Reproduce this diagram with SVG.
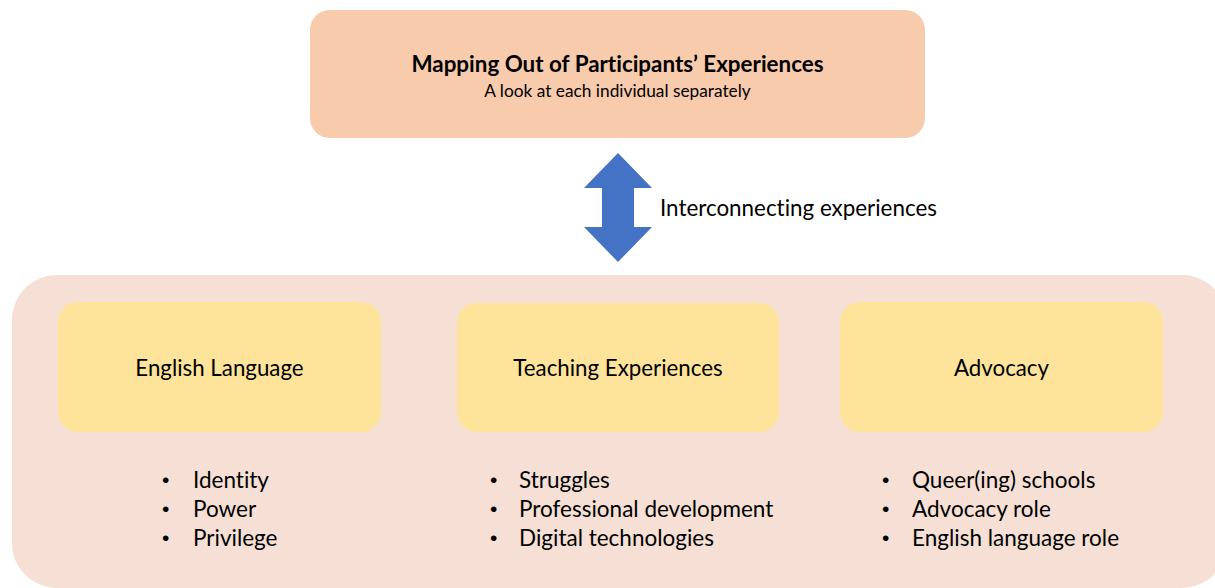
<svg xmlns="http://www.w3.org/2000/svg" width="1215" height="588" viewBox="0 0 1215 588">
<style>
text{font-family:Lato,"Open Sans","Liberation Sans",sans-serif;fill:#000;font-variant-ligatures:none;font-feature-settings:"liga" 0,"dlig" 0}
.title{font-size:22.4px;font-weight:bold;text-anchor:middle}
.sub{font-size:17.3px;text-anchor:middle}
.head{font-size:22.3px;text-anchor:middle}
.item{font-size:22.5px}
.bul{font-size:21px;font-family:"Liberation Sans",sans-serif}
.lbl{font-size:22.4px}
.inner{fill:#FDE49A}
</style>
<rect width="1215" height="588" fill="#FFFFFF"/>
<g id="top">
<rect x="310" y="10" width="615" height="128" rx="20" fill="#F8CBAD"/>
<text class="title" x="617.5" y="72">Mapping Out of Participants’ Experiences</text>
<text class="sub" x="617.5" y="97">A look at each individual separately</text>
</g>
<g id="connectors">
<polygon points="618,153 652,188 634,188 634,227 652,227 618,262 584,227 602,227 602,188 584,188" fill="#4472C4"/>
<text class="lbl" x="660" y="216">Interconnecting experiences</text>
</g>
<g id="container">
<rect x="12" y="275" width="1215" height="313" rx="45" fill="#F6E0D5"/>
</g>
<g id="english">
<rect class="inner" x="58" y="302" width="323" height="130" rx="20"/>
<text class="head" x="219.5" y="376">English Language</text>
<text class="bul" x="162" y="487">•</text><text class="item" x="193" y="488">Identity</text>
<text class="bul" x="162" y="516">•</text><text class="item" x="193" y="517">Power</text>
<text class="bul" x="162" y="545">•</text><text class="item" x="193" y="546">Privilege</text>
</g>
<g id="teaching">
<rect class="inner" x="457" y="303" width="322" height="129" rx="20"/>
<text class="head" x="618" y="376">Teaching Experiences</text>
<text class="bul" x="490" y="487">•</text><text class="item" x="519" y="488">Struggles</text>
<text class="bul" x="490" y="516">•</text><text class="item" x="519" y="517">Professional development</text>
<text class="bul" x="490" y="545">•</text><text class="item" x="519" y="546">Digital technologies</text>
</g>
<g id="advocacy">
<rect class="inner" x="840" y="302" width="323" height="130" rx="20"/>
<text class="head" x="1001.5" y="376">Advocacy</text>
<text class="bul" x="882" y="487">•</text><text class="item" x="912" y="488">Queer(ing) schools</text>
<text class="bul" x="882" y="516">•</text><text class="item" x="912" y="517">Advocacy role</text>
<text class="bul" x="882" y="545">•</text><text class="item" x="912" y="546">English language role</text>
</g>
</svg>
